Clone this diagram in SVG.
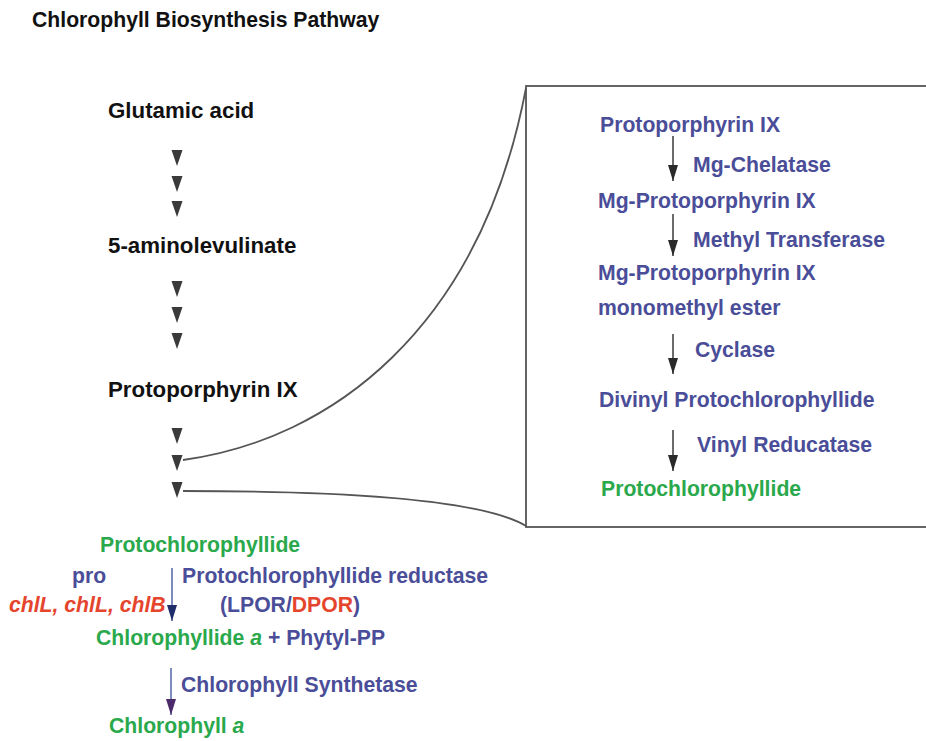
<svg xmlns="http://www.w3.org/2000/svg" width="926" height="741" viewBox="0 0 926 741">
<defs>
<style>
text{font-family:"Liberation Sans",Arial,sans-serif;font-weight:bold;font-size:21.2px}
.k{fill:#111}
.l{font-size:22.3px}
.b{fill:#4a4d98}
.g{fill:#2aa84c}
.r{fill:#e5452d}
.tri{fill:#3a3a3a}
.ln{stroke:#3a3a3a;stroke-width:1.5;fill:none}
.cv{stroke:#555;stroke-width:1.8;fill:none}
</style>
<marker id="ah" viewBox="0 0 16 10" refX="16" refY="5" markerWidth="16" markerHeight="10" markerUnits="userSpaceOnUse" orient="auto"><path d="M0,0 L16,5 L0,10 Z" fill="#2a2a2a"/></marker>
<marker id="ahb" viewBox="0 0 16 10" refX="16" refY="5" markerWidth="16" markerHeight="10" markerUnits="userSpaceOnUse" orient="auto"><path d="M0,0 L16,5 L0,10 Z" fill="#1f2d6a"/></marker>
<marker id="ahp" viewBox="0 0 16 10" refX="16" refY="5" markerWidth="16" markerHeight="10" markerUnits="userSpaceOnUse" orient="auto"><path d="M0,0 L16,5 L0,10 Z" fill="#4a2a6a"/></marker>
<polygon id="t" points="-5.5,0 5.5,0 0,16"/>
</defs>
<rect width="926" height="741" fill="#fff"/>
<text class="k" x="32" y="27" font-size="21">Chlorophyll Biosynthesis Pathway</text>

<g id="glutamic"><text class="k l" x="108" y="118">Glutamic acid</text></g>
<g id="ala"><text class="k l" x="108" y="253">5-aminolevulinate</text></g>
<g id="proto"><text class="k l" x="108" y="397">Protoporphyrin IX</text></g>

<g id="box">
<rect x="526" y="86" width="420" height="441" fill="none" stroke="#555" stroke-width="1.8"/>
<text class="b" x="600" y="132">Protoporphyrin IX</text>
<text class="b" x="693" y="172">Mg-Chelatase</text>
<text class="b" x="598" y="208">Mg-Protoporphyrin IX</text>
<text class="b" x="693" y="247">Methyl Transferase</text>
<text class="b" x="598" y="280">Mg-Protoporphyrin IX</text>
<text class="b" x="598" y="315">monomethyl ester</text>
<text class="b" x="695" y="357" font-size="23">Cyclase</text>
<text class="b" x="599" y="407">Divinyl Protochlorophyllide</text>
<text class="b" x="697" y="452">Vinyl Reducatase</text>
<text class="g" x="601" y="496">Protochlorophyllide</text>
</g>

<g id="bottom">
<text class="g" x="100" y="552">Protochlorophyllide</text>
<text class="b" x="72" y="583">pro</text>
<text class="b" x="182" y="583">Protochlorophyllide reductase</text>
<text class="r" x="9" y="612" font-style="italic">chlL, chlL, chlB</text>
<text class="b" x="220" y="612">(LPOR/<tspan class="r">DPOR</tspan>)</text>
<text x="96" y="645"><tspan class="g">Chlorophyllide <tspan font-style="italic">a</tspan></tspan><tspan class="b"> + Phytyl-PP</tspan></text>
<text class="b" x="181" y="692">Chlorophyll Synthetase</text>
<text class="g" x="109" y="733">Chlorophyll <tspan font-style="italic">a</tspan></text>
</g>

<g id="connectors">
<g class="tri">
<use href="#t" x="177" y="150"/><use href="#t" x="177" y="176"/><use href="#t" x="177" y="201"/>
<use href="#t" x="177" y="281"/><use href="#t" x="177" y="307"/><use href="#t" x="177" y="333"/>
<use href="#t" x="177" y="428"/><use href="#t" x="177" y="455"/><use href="#t" x="177" y="482"/>
</g>
<path class="cv" d="M183,460 C330,440 480,330 526,88"/>
<path class="cv" d="M183,491 C330,491 480,498 526,526"/>
<path class="ln" d="M673,136 V181" marker-end="url(#ah)"/>
<path class="ln" d="M673,214 V256" marker-end="url(#ah)"/>
<path class="ln" d="M673,334 V374" marker-end="url(#ah)"/>
<path class="ln" d="M673,430 V471" marker-end="url(#ah)"/>
<path d="M172,568 V621" stroke="#5066a8" stroke-width="1.5" marker-end="url(#ahb)"/>
<path d="M171,668 V715" stroke="#5066a8" stroke-width="1.5" marker-end="url(#ahp)"/>
</g>
</svg>
